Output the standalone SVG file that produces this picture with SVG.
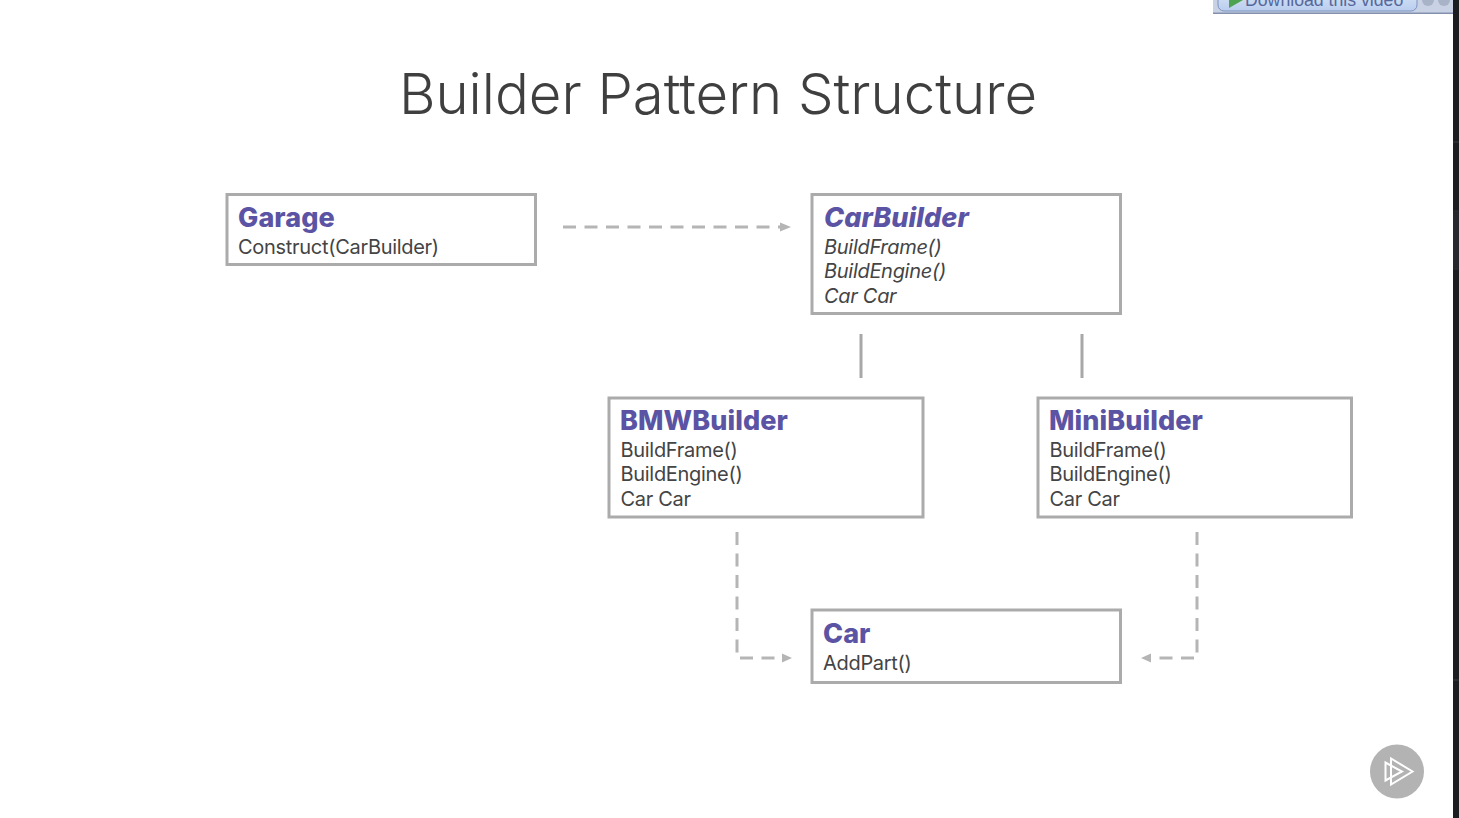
<svg xmlns="http://www.w3.org/2000/svg" width="1459" height="818" viewBox="0 0 1459 818">
<defs>
<linearGradient id="btn" x1="0" y1="0" x2="0" y2="1"><stop offset="0" stop-color="#dbe6f7"/><stop offset="1" stop-color="#b9cdee"/></linearGradient>
</defs>
<style>
.box{fill:#fff;stroke:#ababab;stroke-width:3}
.h{font-family:Inter,"Liberation Sans",sans-serif;font-size:27px;font-weight:800;fill:#5b53a3;letter-spacing:.08px}
.t{font-family:Inter,"Liberation Sans",sans-serif;font-size:20px;fill:#444;letter-spacing:-.3px}
.i{font-style:italic}
.d{fill:none;stroke:#b5b5b5;stroke-width:3;stroke-dasharray:13 8.500}
.s{fill:none;stroke:#a8a8a8;stroke-width:3}
</style>
<rect width="1459" height="818" fill="#fff"/>
<g id="chrome">
<rect x="1453" y="0" width="6" height="818" fill="#1b1d21"/>
<path d="M1453 142H1459M1453 680H1459" stroke="#3a3c40"/>
<rect x="1453" y="210" width="6" height="60" fill="#26282d"/>
<rect x="1213" y="0" width="240" height="14" fill="#c9d2e4"/>
<rect x="1213" y="12.500" width="240" height="1.500" fill="#8391ae"/>
<rect x="1218" y="-10" width="199" height="21" rx="6" fill="url(#btn)" stroke="#7f93bf"/>
<path d="M1229 -2L1243 0L1229 8Z" fill="#4da34f"/>
<text x="1245" y="6" font-family="Liberation Sans, sans-serif" font-size="17.700" fill="#56689a">Download this video</text>
<circle cx="1428" cy="0" r="6" fill="#a9b3c8"/>
<circle cx="1444" cy="0" r="6" fill="#a9b3c8"/>
</g>
<text id="title" x="718" y="114" text-anchor="middle" font-family="Inter,'Liberation Sans',sans-serif" font-size="56.300px" font-weight="300" fill="#3f3f3f">Builder Pattern Structure</text>
<g id="connectors">
<path class="d" d="M563 227H780"/>
<path d="M780 222.500L791 227L780 231.500Z" fill="#b5b5b5"/>
<path class="s" d="M861 334V378M1082 334V378"/>
<path class="d" d="M737 532V658H781"/>
<path d="M782 653.500L792 658L782 662.500Z" fill="#b5b5b5"/>
<path class="d" d="M1197 532V658H1152"/>
<path d="M1151 653.500L1141 658L1151 662.500Z" fill="#b5b5b5"/>
</g>
<g id="garage"><rect class="box" x="227" y="194.500" width="308.500" height="70"/><text class="h" x="238" y="227">Garage</text><text class="t" x="238" y="254">Construct(CarBuilder)</text></g>
<g id="carbuilder"><rect class="box" x="812" y="194.500" width="308.500" height="119"/><text class="h i" x="824" y="227">CarBuilder</text><text class="t i" x="824" y="254">BuildFrame()</text><text class="t i" x="824" y="278">BuildEngine()</text><text class="t i" x="824" y="303">Car Car</text></g>
<g id="bmwbuilder"><rect class="box" x="609" y="398" width="314" height="119"/><text class="h" x="620" y="430">BMWBuilder</text><text class="t" x="620.500" y="457">BuildFrame()</text><text class="t" x="620.500" y="481">BuildEngine()</text><text class="t" x="620.500" y="506">Car Car</text></g>
<g id="minibuilder"><rect class="box" x="1038" y="398" width="313.500" height="119"/><text class="h" x="1049" y="430">MiniBuilder</text><text class="t" x="1049.500" y="457">BuildFrame()</text><text class="t" x="1049.500" y="481">BuildEngine()</text><text class="t" x="1049.500" y="506">Car Car</text></g>
<g id="car"><rect class="box" x="812" y="610" width="308.500" height="72.500"/><text class="h" x="823" y="643">Car</text><text class="t" x="823" y="669.500">AddPart()</text></g>
<g id="logo"><circle cx="1397" cy="771.500" r="27" fill="#b3b3b3"/><path d="M1391 758.500V784.500L1412.500 771.500Z M1385.500 762.500V780.500L1402 771.500Z" fill="none" stroke="#fff" stroke-width="2"/></g>
</svg>
